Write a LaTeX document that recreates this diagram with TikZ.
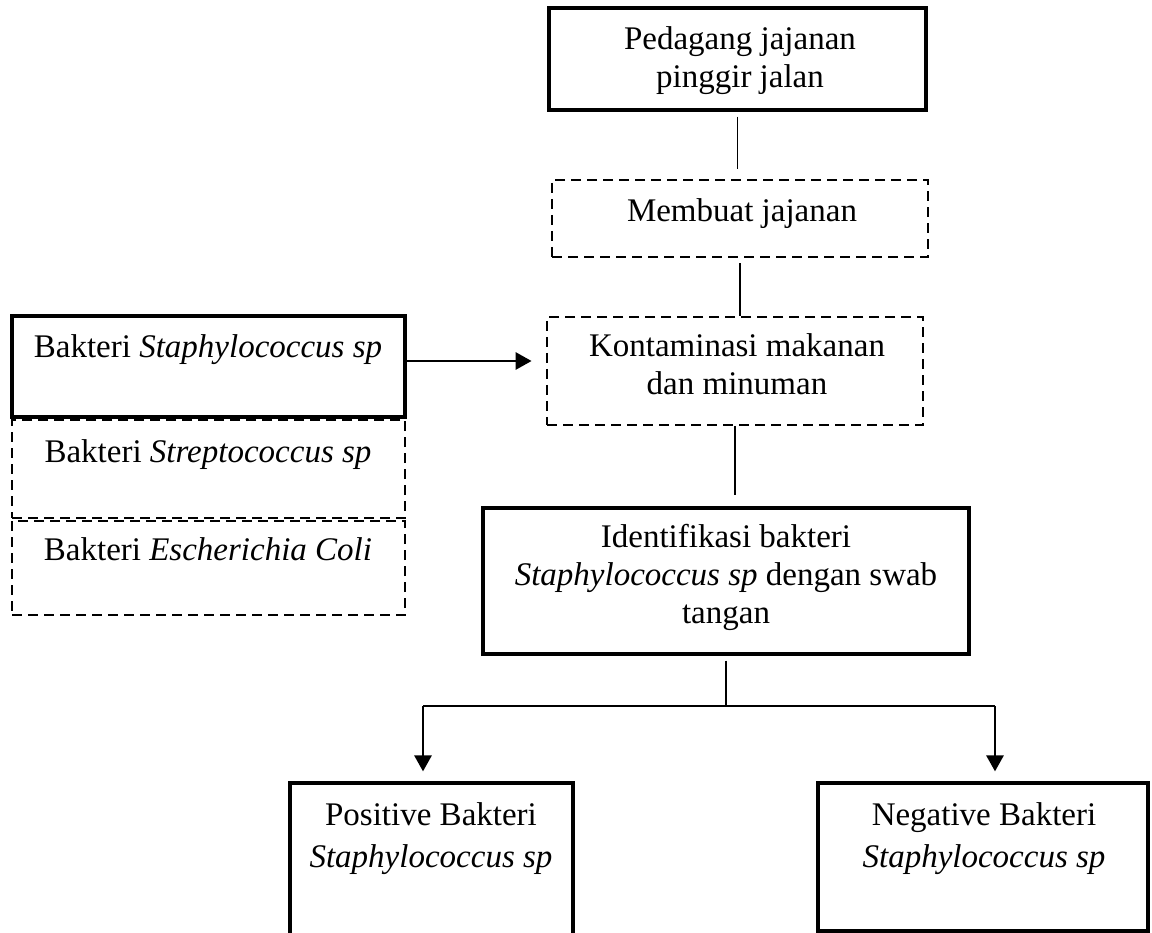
\documentclass[tikz,border=0pt]{standalone}
\usepackage{fontspec}
\setmainfont{Liberation Serif}
\usetikzlibrary{arrows.meta}
\tikzset{
  box/.style={draw, line width=3.2pt, rectangle, inner sep=0pt},
  dbox/.style={draw, line width=2.8pt, rectangle, inner sep=0pt, dash pattern=on 10pt off 6pt},
  txt/.style={anchor=base, align=center, inner sep=0pt, font=\fontsize{33}{38}\selectfont},
  thin/.style={line width=1.6pt},
  arr/.style={line width=2.8pt, -{Triangle[length=16pt,width=17pt]}},
}
\begin{document}
\begin{tikzpicture}[x=1pt,y=-1pt]
\useasboundingbox (0,0) rectangle (1152,933);
\clip (0,0) rectangle (1152,933);
% boxes
\node[box, minimum width=377pt, minimum height=102pt] (ped) at (737.5,59) {};
\node[dbox, minimum width=376pt, minimum height=77pt] (mem) at (740,218.5) {};
\node[dbox, minimum width=376pt, minimum height=108pt] (kon) at (735,371) {};
\node[box, minimum width=486pt, minimum height=146pt] (iden) at (726,581) {};
\node[box, minimum width=393pt, minimum height=101pt] (staph) at (208.5,366.5) {};
\node[dbox, minimum width=393pt, minimum height=98pt] (strep) at (208.5,469) {};
\node[dbox, minimum width=393pt, minimum height=94pt] (ecoli) at (208.5,568) {};
\node[box, minimum width=283pt, minimum height=177pt] (pos) at (431.5,871.5) {};
\node[box, minimum width=330pt, minimum height=148pt] (neg) at (983,857) {};
% texts (base anchor = baseline of last line)
\node[txt] (pedt) at (740,88) {Pedagang jajanan\\pinggir jalan};
\node[txt] (memt) at (742,222) {Membuat jajanan};
\node[txt] (kont) at (737,395) {Kontaminasi makanan\\dan minuman};
\node[txt] (ident) at (726,623) {Identifikasi bakteri\\\textit{Staphylococcus sp} dengan swab\\tangan};
\node[txt] (staphT) at (208,358) {Bakteri \textit{Staphylococcus sp}};
\node[txt] (strepT) at (208,462) {Bakteri \textit{Streptococcus sp}};
\node[txt] (ecoliT) at (208,560) {Bakteri \textit{Escherichia Coli}};
\node[txt] (post) at (431,867) {Positive Bakteri\\[4pt]\textit{Staphylococcus sp}};
\node[txt] (negt) at (984,867) {Negative Bakteri\\[4pt]\textit{Staphylococcus sp}};
% connector helper coordinates
\coordinate (ay) at (0,361);
\coordinate (br) at (726,706);
\coordinate (bl) at (423,706);
\coordinate (brr) at (995,706);
% connectors
\draw[thin, shorten <=5pt, shorten >=10pt] (ped.south) -- (ped.south |- mem.north);
\draw[thin, shorten <=5pt] (mem.south) -- (mem.south |- kon.north);
\draw[thin, shorten >=11pt] (kon.south) -- (kon.south |- iden.north);
\draw[thin, shorten <=5pt] (iden.south) -- (br);
\draw[line width=2.4pt] (bl) -- (brr);
\draw[arr, shorten >=10pt] (bl) -- (bl |- pos.north);
\draw[arr, shorten >=10pt] (brr) -- (brr |- neg.north);
\draw[arr, shorten >=14pt] (staph.east |- ay) -- (kon.west |- ay);
\end{tikzpicture}
\end{document}
